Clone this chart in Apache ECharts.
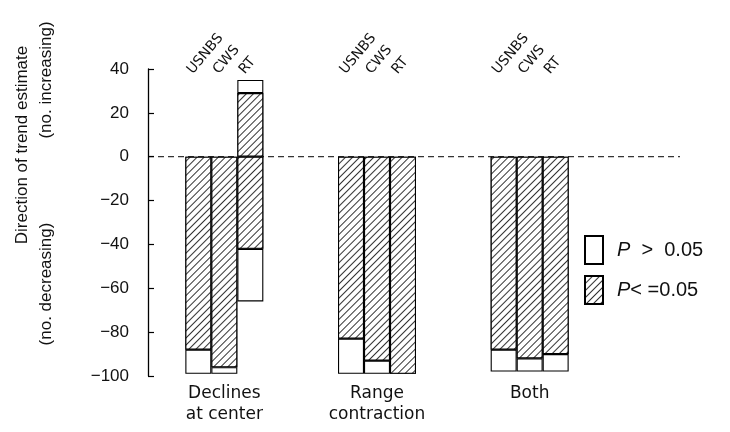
<!DOCTYPE html>
<html>
<head>
<meta charset="utf-8">
<script src="https://cdn.jsdelivr.net/npm/echarts@6/dist/echarts.min.js"></script>
<style>
  html, body { margin: 0; padding: 0; background: #fff; }
  #chart { width: 730px; height: 432px; }
</style>
</head>
<body>
<div id="chart"></div>
<script>
// Trend direction counts by analysis type and data source
const categories = ['Declines\nat center', 'Range\ncontraction', 'Both'];
const sources = ['USNBS', 'CWS', 'RT'];

// decreasing species counts (negative), split by significance
const usnbsSigDown = [-88, -83, -88];
const usnbsNsDown  = [-11, -16, -10];
const cwsSigDown   = [-96, -93, -92];
const cwsNsDown    = [-3, -6, -6];
const rtSigDown    = [-42, -99, -90];
const rtNsDown     = [-24, 0, -8];
// increasing species counts (positive)
const rtSigUp      = [29, 0, 0];
const rtNsUp       = [6, 0, 0];

const yMin = -100, yMax = 40, yStep = 20;
const zeroLine = [0, 0];

const NS = 'P > 0.05';
const SIG = 'P< =0.05';
const FONT = 'Liberation Sans';
const WIDE = 'DejaVu Sans';

// empty segments are left undrawn so no stray edge is stroked
const seg = arr => arr.map(v => (v === 0 ? null : v));

const hatch = {
  symbol: 'rect',
  symbolSize: 1,
  color: '#333',
  backgroundColor: '#fff',
  dashArrayX: [1, 0],
  dashArrayY: [1, 4],
  rotation: -Math.PI / 4
};

const barBase = {
  type: 'bar',
  xAxisIndex: 0,
  yAxisIndex: 0,
  barWidth: 26,
  barGap: '0%',
  z: 3,
  emphasis: { disabled: true }
};

function sigSeries(stack, data, withLabel) {
  const s = Object.assign({}, barBase, {
    name: SIG,
    stack: stack,
    data: seg(data),
    itemStyle: { color: '#fff', borderColor: '#000', borderWidth: 1.1, decal: hatch }
  });
  if (withLabel) {
    s.label = {
      show: true,
      formatter: stack,
      position: [10, -80],
      rotate: 50,
      align: 'left',
      verticalAlign: 'bottom',
      color: '#111',
      fontFamily: WIDE,
      fontSize: 14
    };
  }
  return s;
}
function nsSeries(stack, data) {
  return Object.assign({}, barBase, {
    name: NS,
    stack: stack,
    data: seg(data),
    itemStyle: { color: '#fff', borderColor: '#000', borderWidth: 1.1 }
  });
}

const series = [
  sigSeries(sources[0], usnbsSigDown, true),
  nsSeries(sources[0], usnbsNsDown),
  sigSeries(sources[1], cwsSigDown, true),
  nsSeries(sources[1], cwsNsDown),
  sigSeries(sources[2], rtSigDown, true),
  nsSeries(sources[2], rtNsDown),
  sigSeries(sources[2], rtSigUp, false),
  nsSeries(sources[2], rtNsUp),
  {
    name: 'zero',
    type: 'line',
    xAxisIndex: 1,
    yAxisIndex: 1,
    data: zeroLine,
    symbol: 'none',
    silent: true,
    z: 1,
    lineStyle: { color: '#000', width: 1, type: [6, 4] }
  }
];

const chart = echarts.init(document.getElementById('chart'), null, { renderer: 'canvas' });
chart.setOption({
  animation: false,
  backgroundColor: '#fff',
  grid: [
    { left: 148, top: 69, width: 458, bottom: 56 },
    { left: 148, top: 69, right: 50, bottom: 56 }
  ],
  xAxis: [
    {
      type: 'category',
      gridIndex: 0,
      data: categories,
      axisLine: { show: false },
      axisTick: { show: false },
      axisLabel: {
        margin: 7,
        color: '#111',
        fontFamily: WIDE,
        fontSize: 17,
        lineHeight: 21
      }
    },
    {
      type: 'category',
      gridIndex: 1,
      data: ['', ''],
      boundaryGap: false,
      show: false
    }
  ],
  yAxis: [
    {
      type: 'value',
      gridIndex: 0,
      min: yMin,
      max: yMax,
      interval: yStep,
      axisLine: { show: true, lineStyle: { color: '#000', width: 1.3 } },
      axisTick: { show: true, inside: true, length: 6, lineStyle: { color: '#000', width: 1.2 } },
      splitLine: { show: false },
      axisLabel: {
        margin: 19,
        color: '#111',
        fontFamily: FONT,
        fontSize: 17,
        formatter: v => String(v).replace('-', '\u2212')
      }
    },
    {
      type: 'value',
      gridIndex: 1,
      min: yMin,
      max: yMax,
      interval: yStep,
      show: false,
      splitLine: { show: false }
    }
  ],
  legend: {
    data: [NS, SIG],
    orient: 'vertical',
    left: 579,
    top: 230,
    itemWidth: 18,
    itemHeight: 28,
    itemGap: 10,
    icon: 'rect',
    selectedMode: false,
    formatter: name => name === NS ? '{i|P}  >  0.05' : '{i|P}< =0.05',
    textStyle: {
      color: '#111',
      fontFamily: FONT,
      fontSize: 20,
      padding: [0, 0, 0, 9],
      rich: {
        i: { fontStyle: 'italic', fontFamily: FONT, fontSize: 20, color: '#111' }
      }
    }
  },
  graphic: [
    {
      type: 'text',
      x: 22, y: 145,
      rotation: Math.PI / 2,
      style: {
        text: 'Direction of trend estimate',
        align: 'center', verticalAlign: 'middle',
        font: '17px "Liberation Sans"', fill: '#111'
      }
    },
    {
      type: 'text',
      x: 46, y: 80,
      rotation: Math.PI / 2,
      style: {
        text: '(no. increasing)',
        align: 'center', verticalAlign: 'middle',
        font: '17px "Liberation Sans"', fill: '#111'
      }
    },
    {
      type: 'text',
      x: 46, y: 284,
      rotation: Math.PI / 2,
      style: {
        text: '(no. decreasing)',
        align: 'center', verticalAlign: 'middle',
        font: '17px "Liberation Sans"', fill: '#111'
      }
    }
  ],
  series: series
});
</script>
</body>
</html>
